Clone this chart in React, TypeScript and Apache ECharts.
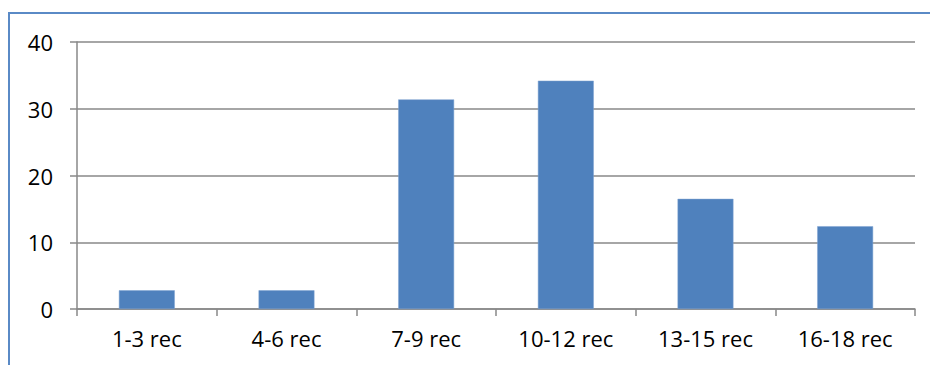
import React, { useEffect, useRef } from "react";
import * as echarts from "echarts";

const categories = ["1-3 rec", "4-6 rec", "7-9 rec", "10-12 rec", "13-15 rec", "16-18 rec"];
const values = [2.8, 2.8, 31.4, 34.2, 16.5, 12.4];
const yTicks = { min: 0, max: 40, interval: 10 };

const FONT = "'Open Sans', 'DejaVu Sans', sans-serif";
const AXIS_GRAY = "#888888";

export default function App() {
  const ref = useRef<HTMLDivElement>(null);

  useEffect(() => {
    if (!ref.current) return;
    const chart = echarts.init(ref.current, null, { renderer: "svg" });
    chart.setOption({
      animation: false,
      backgroundColor: "#ffffff",
      grid: { left: 77, right: 15, top: 42, bottom: 56 },
      graphic: [
        {
          type: "rect",
          shape: { x: 9, y: 13, width: 940, height: 380 },
          style: { fill: "none", stroke: "#5a8ac6", lineWidth: 2 },
          silent: true,
        },
      ],
      xAxis: {
        type: "category",
        data: categories,
        axisLine: { show: true, lineStyle: { color: AXIS_GRAY, width: 1.5 } },
        axisTick: { show: true, alignWithLabel: false, length: 7, lineStyle: { color: AXIS_GRAY, width: 1.5 } },
        axisLabel: { color: "#000", fontFamily: FONT, fontSize: 22, margin: 18 },
      },
      yAxis: {
        type: "value",
        min: yTicks.min,
        max: yTicks.max,
        interval: yTicks.interval,
        axisLine: { show: true, lineStyle: { color: AXIS_GRAY, width: 1.5 } },
        axisTick: { show: true, inside: false, length: 7, lineStyle: { color: AXIS_GRAY, width: 1.5 } },
        splitLine: { show: true, lineStyle: { color: AXIS_GRAY, width: 1.5 } },
        axisLabel: { color: "#000", fontFamily: FONT, fontSize: 22, margin: 24 },
      },
      series: [
        {
          type: "bar",
          data: values,
          barWidth: "40%",
          itemStyle: { color: "#4f81bd", borderColor: "#7fa3d1", borderWidth: 0.5 },
        },
      ],
    });
    return () => chart.dispose();
  }, []);

  return (
    <div
      ref={ref}
      style={{ position: "fixed", left: 0, top: 0, width: 930, height: 365, background: "#fff" }}
    />
  );
}
